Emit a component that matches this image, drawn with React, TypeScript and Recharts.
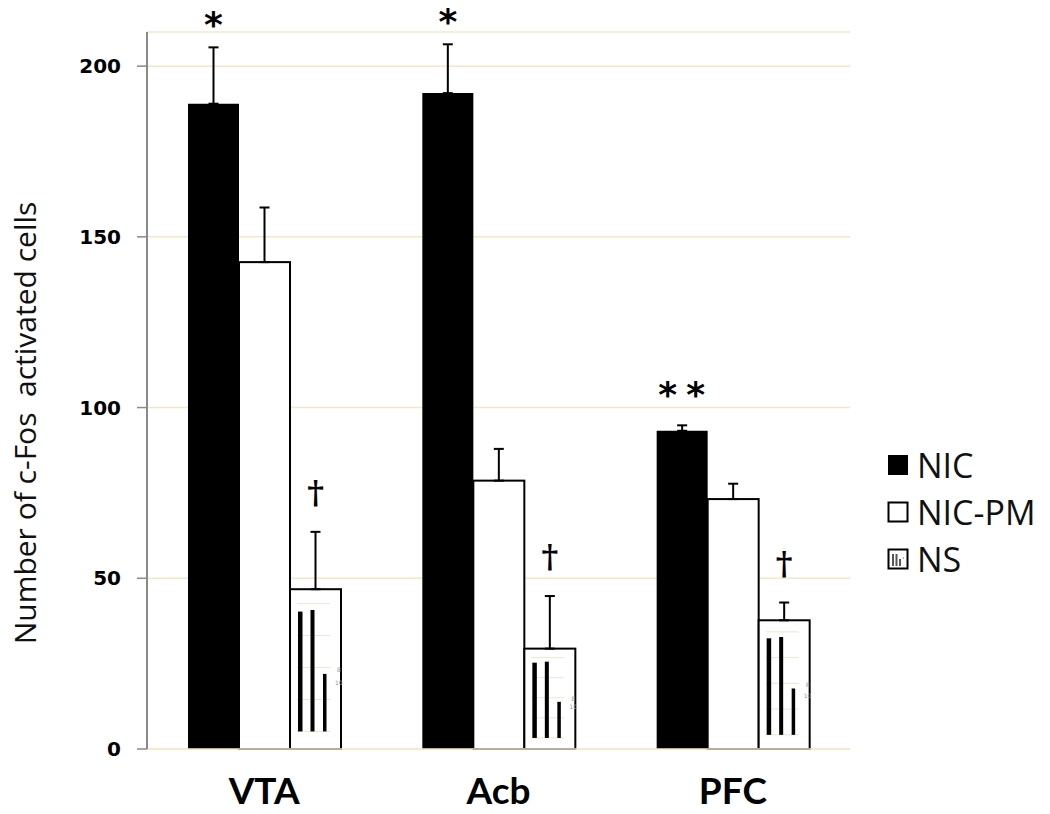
import React from "react";
import {
  BarChart,
  Bar,
  XAxis,
  YAxis,
  CartesianGrid,
  ErrorBar,
  LabelList,
  Legend,
} from "recharts";

const regions = ["VTA", "Acb", "PFC"];
const nic = [189, 192.1, 93.2];
const nicErr = [16.5, 14.3, 1.6];
const nicPm = [142.6, 78.6, 73.2];
const nicPmErr = [16, 9.3, 4.5];
const ns = [46.8, 29.4, 37.7];
const nsErr = [16.8, 15.4, 5.2];
const nicMarks = ["*", "*", "**"];
const nsMarks = ["†", "†", "†"];
const yTicks = [0, 50, 100, 150, 200];

const data = regions.map((r, i) => ({
  region: r,
  nic: nic[i],
  nicErr: [0, nicErr[i]],
  nicMark: nicMarks[i],
  nicPm: nicPm[i],
  nicPmErr: [0, nicPmErr[i]],
  ns: ns[i],
  nsErr: [0, nsErr[i]],
  nsMark: nsMarks[i],
}));

const PALE = "#f3e8c8";
const AXIS_GRAY = "#8a8a8a";

// white bar with a black outline
const OutlineBar = (props: any) => {
  const { x, y, width, height } = props;
  if (!height) return null;
  return <rect x={x} y={y} width={width} height={height} fill="#fff" stroke="#000" strokeWidth={2} />;
};

// NS bars carry a little embedded bar-chart picture as their fill
const PatternBar = (props: any) => {
  const { x, y, width, height } = props;
  if (!height) return null;
  const top = (f: number) => y + height * f;
  const bottom = top(0.89);
  const sx = width / 51;
  return (
    <g>
      <rect x={x} y={y} width={width} height={height} fill="#fff" stroke="#000" strokeWidth={2} />
      {[0.09, 0.29, 0.49, 0.69, 0.89].map((f, i) => (
        <line key={i} x1={x + 7 * sx} x2={x + 40 * sx} y1={top(f)} y2={top(f)} stroke="#eee6cf" strokeWidth={1} />
      ))}
      <rect x={x + 8 * sx} y={top(0.14)} width={4.5 * sx} height={bottom - top(0.14)} fill="#000" />
      <rect x={x + 20.5 * sx} y={top(0.13)} width={4 * sx} height={bottom - top(0.13)} fill="#000" />
      <rect x={x + 33 * sx} y={top(0.53)} width={3.5 * sx} height={bottom - top(0.53)} fill="#000" />
      <text x={x + 47 * sx} y={top(0.52)} fontSize={6} fill="#999" fontFamily="DejaVu Sans">8</text>
      <text x={x + 45 * sx} y={top(0.6)} fontSize={6} fill="#999" fontFamily="DejaVu Sans">10</text>
    </g>
  );
};

// "*" / "†" marks sitting above each error bar
const markLabel = (values: number[], errs: number[], kind: "star" | "dagger") => (props: any) => {
  const { x, y, width, height, value, index } = props;
  if (value == null || !height) return null;
  const pxPerUnit = height / values[index];
  const errTop = y - errs[index] * pxPerUnit;
  const cx = x + width / 2;
  if (kind === "star") {
    const pair = value.length > 1;
    return (
      <text
        x={cx + (pair ? 4 : 0)}
        y={errTop - (pair ? 18 : 10)}
        textAnchor="middle"
        fontFamily="DejaVu Sans"
        fontWeight="bold"
        fontSize={36}
        letterSpacing={pair ? 9 : 0}
        fill="#000"
      >
        {value}
      </text>
    );
  }
  return (
    <text
      x={cx}
      y={errTop - 29}
      textAnchor="middle"
      fontFamily="DejaVu Serif"
      fontWeight="bold"
      fontSize={32}
      fill="#000"
    >
      {value}
    </text>
  );
};

const legendItems = [
  { name: "NIC", kind: "solid" },
  { name: "NIC-PM", kind: "outline" },
  { name: "NS", kind: "pattern" },
];

const LegendIcon = ({ kind }: { kind: string }) => (
  <svg width={22} height={22} style={{ display: "block" }}>
    {kind === "solid" && <rect x={1} y={1} width={20} height={20} fill="#000" />}
    {kind === "outline" && <rect x={1.5} y={1.5} width={19} height={19} fill="#fff" stroke="#000" strokeWidth={2} />}
    {kind === "pattern" && (
      <g>
        <rect x={1.5} y={1.5} width={19} height={19} fill="#fff" stroke="#000" strokeWidth={2} />
        <rect x={5} y={6} width={2} height={12} fill="#555" />
        <rect x={8.5} y={6} width={2} height={12} fill="#555" />
        <rect x={12} y={11} width={2} height={7} fill="#555" />
        <rect x={16} y={9} width={1} height={2} fill="#aaa" />
      </g>
    )}
  </svg>
);

const renderLegend = () => (
  <div style={{ display: "flex", flexDirection: "column" }}>
    {legendItems.map((it) => (
      <div key={it.name} style={{ display: "flex", alignItems: "center", height: 47 }}>
        <LegendIcon kind={it.kind} />
        <span
          style={{
            marginLeft: 8,
            fontFamily: "'Open Sans', sans-serif",
            fontSize: 34,
            color: "#111",
            lineHeight: 1,
          }}
        >
          {it.name}
        </span>
      </div>
    ))}
  </div>
);

const renderYLabel = () => {
  const cx = 24;
  const cy = 423;
  return (
    <text
      x={cx}
      y={cy}
      transform={`rotate(-90 ${cx} ${cy})`}
      textAnchor="middle"
      dominantBaseline="central"
      fontFamily="'Open Sans', sans-serif"
      fontSize={30}
      fill="#111"
      style={{ whiteSpace: "pre" }}
    >
      {"Number of c-Fos  activated cells"}
    </text>
  );
};

export default function App() {
  return (
    <div style={{ position: "fixed", left: 0, top: 0, width: 1050, height: 814, background: "#fff" }}>
      <BarChart
        width={1050}
        height={814}
        data={data}
        margin={{ top: 32, right: 200, left: 67, bottom: 0 }}
        barGap={0}
        barSize={51}
      >
        <CartesianGrid horizontal vertical={false} stroke={PALE} strokeWidth={1.5} />
        <XAxis
          dataKey="region"
          height={65}
          axisLine={{ stroke: PALE, strokeWidth: 1.5 }}
          tickLine={false}
          tickMargin={23}
          tick={{ fill: "#000", fontSize: 37, fontWeight: "bold", fontFamily: "Lato, sans-serif" }}
        />
        <YAxis
          width={80}
          domain={[0, 210]}
          ticks={yTicks}
          interval={0}
          axisLine={{ stroke: AXIS_GRAY, strokeWidth: 2 }}
          tickLine={{ stroke: AXIS_GRAY, strokeWidth: 1.5 }}
          tickSize={10}
          tickMargin={16}
          tick={{ fill: "#000", fontSize: 20, fontWeight: "bold", fontFamily: "DejaVu Sans, sans-serif" }}
          label={{ value: "Number of c-Fos  activated cells", content: renderYLabel }}
        />
        <Legend
          layout="vertical"
          align="center"
          verticalAlign="middle"
          content={renderLegend}
          wrapperStyle={{ position: "absolute", left: 887, top: 441, width: 163 }}
        />
        <Bar dataKey="nic" name="NIC" fill="#000" isAnimationActive={false}>
          <ErrorBar dataKey="nicErr" direction="y" width={5} stroke="#000" strokeWidth={2} isAnimationActive={false} />
          <LabelList dataKey="nicMark" content={markLabel(nic, nicErr, "star")} />
        </Bar>
        <Bar dataKey="nicPm" name="NIC-PM" shape={OutlineBar} isAnimationActive={false}>
          <ErrorBar dataKey="nicPmErr" direction="y" width={5} stroke="#000" strokeWidth={2} isAnimationActive={false} />
        </Bar>
        <Bar dataKey="ns" name="NS" shape={PatternBar} isAnimationActive={false}>
          <ErrorBar dataKey="nsErr" direction="y" width={5} stroke="#000" strokeWidth={2} isAnimationActive={false} />
          <LabelList dataKey="nsMark" content={markLabel(ns, nsErr, "dagger")} />
        </Bar>
      </BarChart>
    </div>
  );
}
